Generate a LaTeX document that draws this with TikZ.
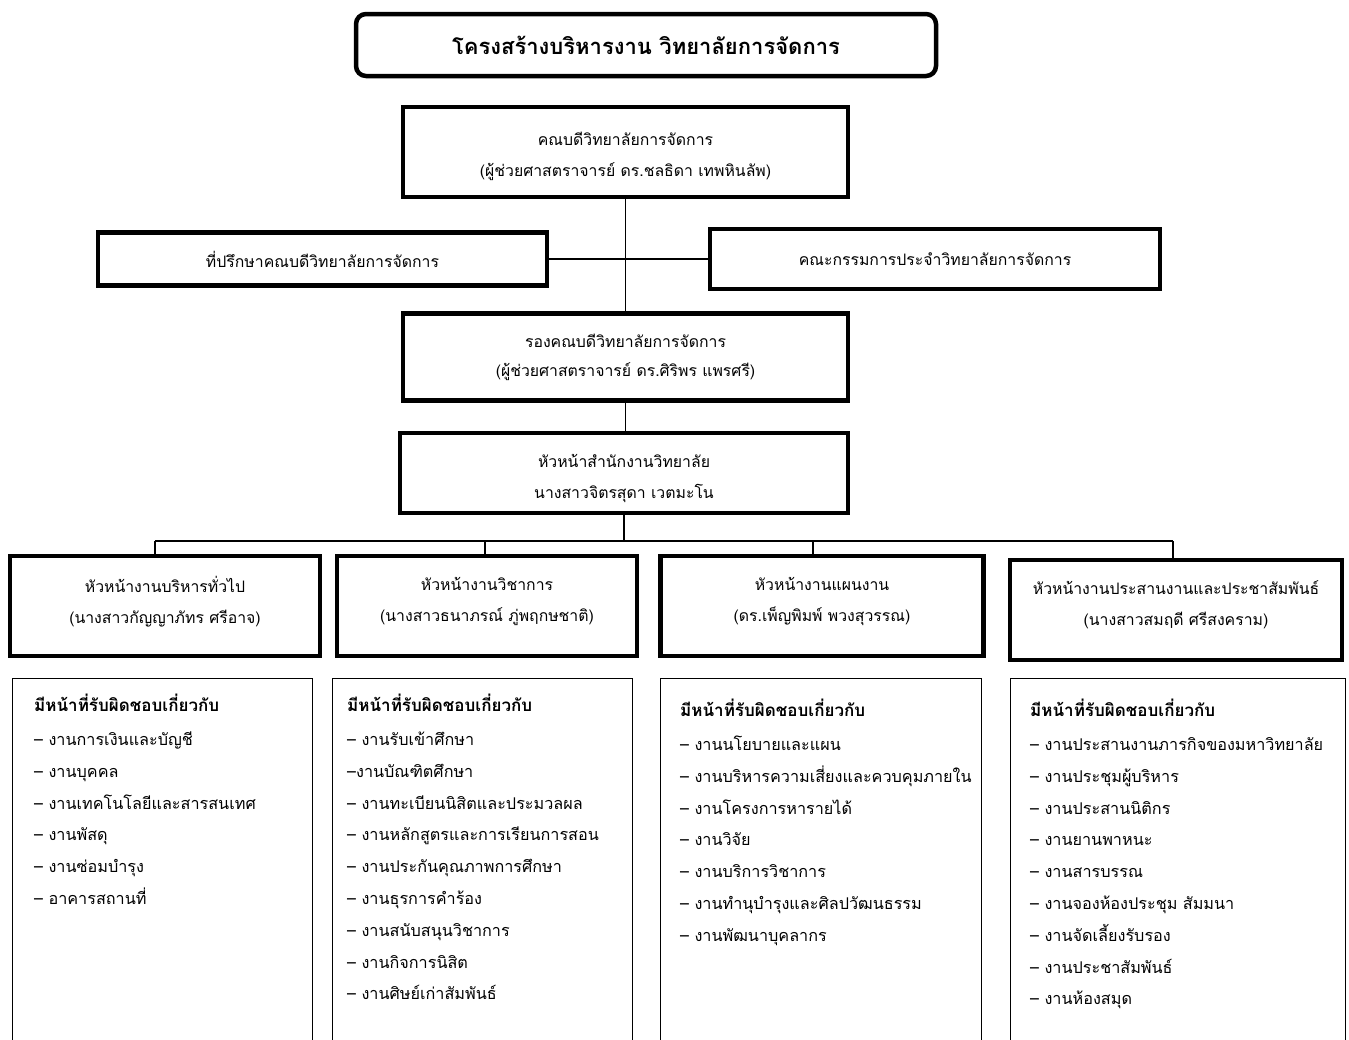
\documentclass[tikz,border=0pt]{standalone}
\usepackage{fontspec}
\setmainfont[Script=Thai]{Loma}
\begin{document}
\begin{tikzpicture}[x=1pt,y=-1pt,
    bigbox/.style={draw, line width=4.5pt, align=center, inner sep=0pt, font=\fontsize{15.8}{31}\selectfont},
    listbox/.style={draw, line width=1pt, inner sep=0pt, anchor=north west},
    listtext/.style={anchor=north west, align=left, inner sep=0pt, font=\fontsize{16.2}{31.8}\selectfont},
    link/.style={line width=1.3pt}]
  \useasboundingbox (0,0) rectangle (1349,1039);
  \clip (0,0) rectangle (1349,1039);
  % title
  \node[bigbox, rounded corners=10pt, minimum width=580, minimum height=62, font=\fontsize{22}{26}\selectfont\bfseries] (title) at (646,45) {โครงสร้างบริหารงาน วิทยาลัยการจัดการ};
  % top of the chart
  \node[bigbox, minimum width=445, minimum height=90] (dean) at (625.5,152) {\rule{0pt}{22pt}คณบดีวิทยาลัยการจัดการ\\(ผู้ช่วยศาสตราจารย์ ดร.ชลธิดา เทพหินลัพ)};
  \node[bigbox, minimum width=449, minimum height=53] (advisor) at (322.5,259) {ที่ปรึกษาคณบดีวิทยาลัยการจัดการ};
  \node[bigbox, minimum width=450, minimum height=60] (committee) at (935,259) {คณะกรรมการประจำวิทยาลัยการจัดการ};
  \node[bigbox, minimum width=445, minimum height=87] (vice) at (625.5,357) {รองคณบดีวิทยาลัยการจัดการ\\[-2pt](ผู้ช่วยศาสตราจารย์ ดร.ศิริพร แพรศรี)};
  \node[bigbox, minimum width=448, minimum height=80] (office) at (624,473) {\rule{0pt}{24pt}หัวหน้าสำนักงานวิทยาลัย\\นางสาวจิตรสุดา เวตมะโน};
  % heads
  \node[bigbox, minimum width=310, minimum height=100] (head1) at (165,606) {หัวหน้างานบริหารทั่วไป\\(นางสาวกัญญาภัทร ศรีอาจ)\rule[-13pt]{0pt}{13pt}};
  \node[bigbox, minimum width=300, minimum height=100] (head2) at (487,606) {หัวหน้างานวิชาการ\\(นางสาวธนาภรณ์ ภู่พฤกษชาติ)\rule[-13pt]{0pt}{13pt}};
  \node[bigbox, minimum width=323, minimum height=100] (head3) at (822,606) {หัวหน้างานแผนงาน\\(ดร.เพ็ญพิมพ์ พวงสุวรรณ)\rule[-13pt]{0pt}{13pt}};
  \node[bigbox, minimum width=332, minimum height=100] (head4) at (1176,610) {หัวหน้างานประสานงานและประชาสัมพันธ์\\(นางสาวสมฤดี ศรีสงคราม)\rule[-13pt]{0pt}{13pt}};
  % lines
  \draw[link] (dean.south) -- (dean.south |- vice.north);
  \draw[link] (advisor.east) -- (advisor.east -| committee.west);
  \draw[link] (vice.south) -- (vice.south |- office.north);
  \coordinate (drop1) at (155,541);
  \coordinate (drop2) at (485,541);
  \coordinate (drop3) at (813,541);
  \coordinate (drop4) at (1173,541);
  \draw[link] (office.south) -- (office.south |- drop1);
  \draw[link] (drop1) -- (drop4);
  \draw[link] (drop1) -- (drop1 |- head1.north);
  \draw[link] (drop2) -- (drop2 |- head2.north);
  \draw[link] (drop3) -- (drop3 |- head3.north);
  \draw[link] (drop4) -- (drop4 |- head4.north);
  % duty lists
  \node[listbox, minimum width=300, minimum height=420] (frame1) at (12,678) {};
  \node[listbox, minimum width=300, minimum height=420] (frame2) at (332,678) {};
  \node[listbox, minimum width=321, minimum height=420] (frame3) at (660,678) {};
  \node[listbox, minimum width=335, minimum height=420] (frame4) at (1010,678) {};
  \node[listtext] (duty1) at (34,694) {\textbf{\fontsize{17}{31.8}\selectfont มีหน้าที่รับผิดชอบเกี่ยวกับ}\\[2pt]– งานการเงินและบัญชี\\– งานบุคคล\\– งานเทคโนโลยีและสารสนเทศ\\– งานพัสดุ\\– งานซ่อมบำรุง\\– อาคารสถานที่};
  \node[listtext] (duty2) at (347,694) {\textbf{\fontsize{17}{31.8}\selectfont มีหน้าที่รับผิดชอบเกี่ยวกับ}\\[2pt]– งานรับเข้าศึกษา\\–งานบัณฑิตศึกษา\\– งานทะเบียนนิสิตและประมวลผล\\– งานหลักสูตรและการเรียนการสอน\\– งานประกันคุณภาพการศึกษา\\– งานธุรการคำร้อง\\– งานสนับสนุนวิชาการ\\– งานกิจการนิสิต\\– งานศิษย์เก่าสัมพันธ์};
  \node[listtext] (duty3) at (680,699) {\textbf{\fontsize{17}{31.8}\selectfont มีหน้าที่รับผิดชอบเกี่ยวกับ}\\[2pt]– งานนโยบายและแผน\\– งานบริหารความเสี่ยงและควบคุมภายใน\\– งานโครงการหารายได้\\– งานวิจัย\\– งานบริการวิชาการ\\– งานทำนุบำรุงและศิลปวัฒนธรรม\\– งานพัฒนาบุคลากร};
  \node[listtext] (duty4) at (1030,699) {\textbf{\fontsize{17}{31.8}\selectfont มีหน้าที่รับผิดชอบเกี่ยวกับ}\\[2pt]– งานประสานงานภารกิจของมหาวิทยาลัย\\– งานประชุมผู้บริหาร\\– งานประสานนิติกร\\– งานยานพาหนะ\\– งานสารบรรณ\\– งานจองห้องประชุม สัมมนา\\– งานจัดเลี้ยงรับรอง\\– งานประชาสัมพันธ์\\– งานห้องสมุด};
\end{tikzpicture}
\end{document}
